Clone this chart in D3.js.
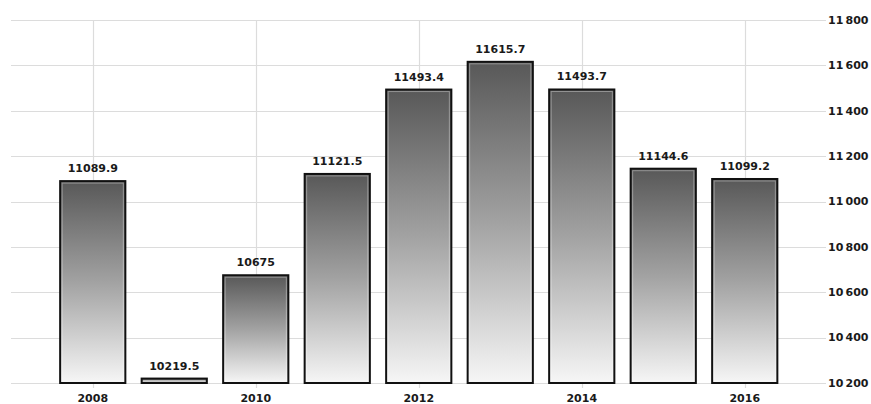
<!DOCTYPE html>
<html><head><meta charset="utf-8">
<script src="https://cdn.jsdelivr.net/npm/d3@7/dist/d3.min.js"></script>
<style>
html,body{margin:0;padding:0;background:#fff;}
svg{display:block;font-family:"DejaVu Sans",Verdana,sans-serif;}
</style></head>
<body>
<svg id="chart" width="871" height="404"></svg>
<script>
const years = ["2008","2009","2010","2011","2012","2013","2014","2015","2016"];
const values = [11089.9, 10219.5, 10675, 11121.5, 11493.4, 11615.7, 11493.7, 11144.6, 11099.2];
const valueLabels = ["11089.9","10219.5","10675","11121.5","11493.4","11615.7","11493.7","11144.6","11099.2"];
const yTicks = [10200, 10400, 10600, 10800, 11000, 11200, 11400, 11600, 11800];
const xTickLabels = ["2008","2010","2012","2014","2016"];

(function(){
const svg = d3.select("#chart");
const gLeft = 11, gRight = 826, gTop = 20, gBottom = 383;

const x = d3.scaleBand().domain(years).range([52, 785.5]).paddingInner(0.2).paddingOuter(0.1);
const y = d3.scaleLinear().domain([10200, 11800]).range([gBottom, gTop]);

const defs = svg.append("defs");
const grad = defs.append("linearGradient").attr("id","barGrad").attr("x1",0).attr("y1",0).attr("x2",0).attr("y2",1);
grad.append("stop").attr("offset","0%").attr("stop-color","#585858");
grad.append("stop").attr("offset","50%").attr("stop-color","#a2a2a2");
grad.append("stop").attr("offset","100%").attr("stop-color","#f6f6f6");

// horizontal gridlines
svg.append("g").selectAll("line").data(yTicks).join("line")
  .attr("x1", gLeft).attr("x2", gRight)
  .attr("y1", d => Math.round(y(d)) + 0.5).attr("y2", d => Math.round(y(d)) + 0.5)
  .attr("stroke", "#dcdcdc").attr("stroke-width", 1.2);

// vertical gridlines
svg.append("g").selectAll("line").data(xTickLabels).join("line")
  .attr("x1", d => Math.round(x(d) + x.bandwidth()/2) + 0.5)
  .attr("x2", d => Math.round(x(d) + x.bandwidth()/2) + 0.5)
  .attr("y1", gTop).attr("y2", gBottom + 5)
  .attr("stroke", "#dcdcdc").attr("stroke-width", 1.2);

// y tick labels
svg.append("g").selectAll("text").data(yTicks).join("text")
  .attr("x", 828).attr("y", d => y(d)).attr("dy", "0.35em")
  .attr("font-size", 11).attr("font-weight", "bold").attr("fill", "#1a1a1a")
  .text(d => d3.format(",")(d).replace(",", "\u2009"));

// bars
svg.append("g").selectAll("rect").data(values).join("rect")
  .attr("x", (d,i) => x(years[i]))
  .attr("y", d => y(d))
  .attr("width", x.bandwidth())
  .attr("height", d => y(10200) - y(d))
  .attr("fill", "url(#barGrad)")
  .attr("stroke", "#111").attr("stroke-width", 2);

// inner light border
svg.append("g").selectAll("rect").data(values).join("rect")
  .attr("x", (d,i) => x(years[i]) + 2)
  .attr("y", d => y(d) + 2)
  .attr("width", x.bandwidth() - 4)
  .attr("height", d => Math.max(0, y(10200) - y(d) - 4))
  .attr("fill", "none")
  .attr("stroke", "rgba(255,255,255,0.35)").attr("stroke-width", 1);

// value labels
svg.append("g").selectAll("text").data(values).join("text")
  .attr("x", (d,i) => x(years[i]) + x.bandwidth()/2)
  .attr("y", d => y(d) - 9)
  .attr("text-anchor", "middle")
  .attr("font-size", 11).attr("font-weight", "bold").attr("fill", "#1a1a1a")
  .text((d,i) => valueLabels[i]);

// x labels
svg.append("g").selectAll("text").data(xTickLabels).join("text")
  .attr("x", d => x(d) + x.bandwidth()/2)
  .attr("y", 402)
  .attr("text-anchor", "middle")
  .attr("font-size", 11).attr("font-weight", "bold").attr("fill", "#1a1a1a")
  .text(d => d);
})();
</script>
</body></html>
